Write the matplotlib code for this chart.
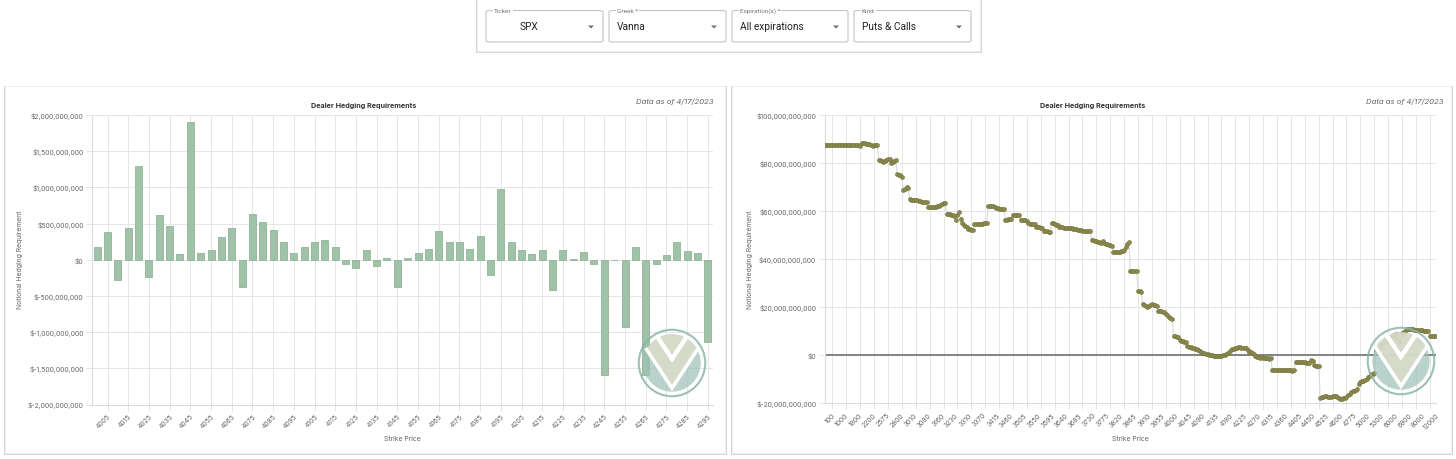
import numpy as np
import matplotlib
matplotlib.use("Agg")
import matplotlib.pyplot as plt
from matplotlib.patches import Rectangle, FancyBboxPatch, Circle, Polygon
from matplotlib.ticker import FuncFormatter, FixedLocator
from matplotlib.lines import Line2D

# ---------------- data ----------------
bar_strikes = [4000, 4005, 4010, 4015, 4020, 4025, 4030, 4035, 4040, 4045,
               4050, 4055, 4060, 4065, 4070, 4075, 4080, 4085, 4090, 4095,
               4100, 4105, 4110, 4115, 4120, 4125, 4130, 4135, 4140, 4145,
               4150, 4155, 4160, 4165, 4170, 4175, 4180, 4185, 4190, 4195,
               4200, 4205, 4210, 4215, 4220, 4225, 4230, 4235, 4240, 4245,
               4250, 4255, 4260, 4265, 4270, 4275, 4280, 4285, 4290, 4295]
# notional hedging requirement per strike, in millions of $
bar_values_m = [180, 377, -285, 432, 1297, -239, 612, 469, 74, 1909,
                87, 138, 308, 432, -377, 635, 515, 409, 248, 97,
                170, 244, 267, 170, -64, -115, 129, -83, 23, -375,
                20, 87, 152, 400, 248, 248, 152, 331, -216, 971,
                248, 133, 83, 129, -424, 129, 8, 101, -60, -1588,
                -5, -930, 179, -1590, -60, 60, 244, 120, 92, -1137]

# cumulative curve (right chart), in billions of $, one value per strike category
line_values_b = [
    87.4, 87.4, 87.4, 87.4, 87.4, 87.4, 87.4, 87.4, 87.4, 87.4,
    87.4, 87.4, 87.4, 87.4, 87.4, 87.4, 87.4, 87.4, 87.4, 87.4,
    87.4, 87.3, 87.3, 87.2, 88.3, 88.4, 88.3, 88.1, 87.9, 87.8,
    87.4, 87.1, 87.5, 87.6, 87.5, 81.4, 81.2, 80.8, 80.6, 80.8,
    81.2, 81.5, 81.6, 80.2, 80.6, 81.0, 81.2, 75.4, 75.1, 74.8,
    74.3, 68.6, 69.2, 69.8, 69.5, 64.8, 64.7, 64.7, 64.6, 64.5,
    64.4, 64.3, 64.0, 63.9, 63.7, 63.7, 63.6, 61.8, 61.8, 61.7,
    61.7, 61.7, 61.8, 61.9, 62.1, 62.4, 62.8, 63.2, 63.3, 58.7,
    58.7, 58.6, 58.5, 58.2, 58.0, 56.3, 58.3, 59.7, 56.7, 55.0,
    54.0, 53.8, 53.4, 52.6, 52.3, 52.1, 52.0, 54.6, 54.7, 54.7,
    54.6, 54.5, 54.6, 54.8, 54.9, 54.9, 61.9, 62.0, 61.9, 61.9,
    61.8, 61.3, 61.1, 61.0, 61.0, 60.9, 60.9, 56.3, 56.4, 56.5,
    56.6, 56.7, 58.3, 58.4, 58.4, 58.3, 58.2, 56.3, 56.2, 56.2,
    56.1, 56.0, 54.8, 54.6, 54.6, 54.5, 54.4, 53.4, 53.3, 53.2,
    53.0, 52.9, 51.8, 51.6, 51.5, 51.4, 51.3, 55.2, 55.0, 54.7,
    54.3, 54.0, 53.3, 53.2, 53.2, 53.1, 53.0, 53.0, 52.9, 52.8,
    52.8, 52.7, 52.6, 52.4, 52.2, 52.0, 51.9, 51.8, 51.8, 51.7,
    51.7, 51.7, 51.6, 48.0, 47.8, 47.6, 47.4, 47.2, 47.0, 46.8,
    47.6, 46.5, 46.4, 46.2, 46.0, 45.7, 45.5, 43.1, 43.0, 42.9,
    42.9, 43.0, 43.3, 43.5, 43.6, 45.2, 46.3, 47.2, 35.2, 35.1,
    35.1, 35.0, 34.9, 26.6, 26.5, 26.4, 21.3, 20.8, 20.4, 20.2,
    20.5, 21.0, 21.1, 20.9, 20.7, 20.5, 18.3, 18.3, 18.2, 18.0,
    17.8, 17.0, 16.5, 16.0, 15.4, 15.0, 8.0, 7.9, 7.7, 7.5,
    6.2, 5.9, 5.7, 5.5, 5.3, 3.6, 3.4, 3.2, 3.0, 2.8,
    2.6, 2.3, 2.0, 1.7, 1.3, 1.0, 0.8, 0.6, 0.4, 0.2,
    0.0, -0.2, -0.3, -0.4, -0.5, -0.5, -0.5, -0.4, -0.2, 0.1,
    0.5, 0.9, 1.4, 1.9, 2.3, 2.7, 3.0, 3.1, 3.2, 3.2,
    3.1, 3.1, 3.0, 3.0, 1.9, 1.4, 1.1, 0.9, 0.6, -0.6,
    -0.9, -1.0, -1.1, -1.0, -1.2, -1.4, -1.3, -1.4, -1.5, -1.4,
    -6.2, -6.4, -6.4, -6.3, -6.3, -6.4, -6.3, -6.3, -6.2, -6.3,
    -6.3, -6.3, -6.4, -6.5, -6.2, -2.9, -2.8, -2.8, -2.9, -3.0,
    -3.0, -3.1, -3.3, -3.4, -3.5, -2.0, -2.4, -4.2, -4.4, -4.5,
    -4.5, -17.8, -17.5, -17.3, -17.0, -17.1, -17.4, -17.6, -17.4, -17.2,
    -17.0, -17.2, -17.6, -17.9, -18.2, -18.4, -18.1, -17.8, -17.5, -16.8,
    -16.2, -15.6, -15.2, -14.8, -14.4, -14.0, -12.0, -11.4, -11.0, -10.8,
    -10.5, -10.2, -9.2, -8.6, -8.0, -7.8, -7.6, 2.0, 2.5, 3.0,
    3.6, 4.6, 5.0, 5.3, 5.6, 6.6, 7.0, 7.4, 7.8, 8.2,
    8.8, 7.0, 5.5, 0.3, 9.0, 9.5, 10.0, 10.8, 10.9, 10.9,
    10.8, 10.7, 10.6, 10.5, 10.5, 10.4, 10.3, 10.3, 10.2, 10.1,
    10.1, 10.0, 8.0, 7.9, 7.8, 7.8, 7.8]

line_tick_labels = ["100", "1000", "1800", "2200", "2575", "2800", "3010", "3080",
                    "3160", "3230", "3310", "3370", "3415", "3460", "3505", "3550",
                    "3595", "3640", "3685", "3730", "3775", "3820", "3865", "3910",
                    "3955", "4000", "4045", "4090", "4135", "4180", "4225", "4270",
                    "4315", "4360", "4405", "4450", "4525", "4600", "4775", "5000",
                    "5300", "6000", "6900", "8000", "12000"]

left_yticks_m = [-2000, -1500, -1000, -500, 0, 500, 1000, 1500, 2000]
right_yticks_b = [-20, 0, 20, 40, 60, 80, 100]

title = "Dealer Hedging Requirements"
asof = "Data as of 4/17/2023"
ylab = "Notional Hedging Requirement"
xlab = "Strike Price"
dropdowns = [("Ticker", "SPX"), ("Greek *", "Vanna"),
             ("Expiration(s) *", "All expirations"), ("Kind", "Puts & Calls")]

# ---------------- figure ----------------
W, H = 1456, 460
plt.rcParams['font.family'] = ['Inter', 'DejaVu Sans']
fig = plt.figure(figsize=(W / 100, H / 100), dpi=100)
fig.patch.set_facecolor('white')


def fx(x):
    return x / W


def fy(y):
    return 1 - y / H


def card(x0, y0, x1, y1):
    sh = Rectangle((fx(x0 - 1), fy(y1 + 2)), (x1 - x0 + 3) / W, (y1 - y0 + 2) / H,
                   transform=fig.transFigure, fc='#d6d6d6', ec='none', zorder=-3)
    fig.add_artist(sh)
    r = Rectangle((fx(x0), fy(y1)), (x1 - x0) / W, (y1 - y0) / H,
                  transform=fig.transFigure, fc='white', ec='#efefef', lw=0.6, zorder=-2)
    fig.add_artist(r)


card(5, 87, 725, 454)
card(732, 87, 1451, 454)
card(477, -5, 980, 52)

# dropdown boxes
boxes = [(486, 603), (609, 726), (732, 848), (854, 971)]
for (lab, val), (bx0, bx1) in zip(dropdowns, boxes):
    by0, by1 = 11.5, 43
    b = FancyBboxPatch((fx(bx0), fy(by1)), (bx1 - bx0) / W, (by1 - by0) / H,
                       boxstyle="round,pad=0,rounding_size=0.003",
                       transform=fig.transFigure, fc='white', ec='#c4c4c4', lw=0.8,
                       zorder=1)
    fig.add_artist(b)
    fig.text(fx(bx0 + 8), fy(by0), lab, fontsize=4.6, color='#757575',
             family=['Roboto', 'DejaVu Sans'], ha='left', va='center', zorder=3,
             bbox=dict(boxstyle='square,pad=0.15', fc='white', ec='none'))
    if lab == "Ticker":
        fig.text(fx(529), fy(27.5), val, fontsize=7.3, color='#222222',
                 family=['Roboto', 'DejaVu Sans'], ha='center', va='center', zorder=3)
    else:
        fig.text(fx(bx0 + 8), fy(27.5), val, fontsize=7.3, color='#222222',
                 family=['Roboto', 'DejaVu Sans'], ha='left', va='center', zorder=3)
    tx = bx1 - 12
    tri = Polygon([(fx(tx - 3), fy(26.5)), (fx(tx + 3), fy(26.5)), (fx(tx), fy(29.5))],
                  closed=True, transform=fig.transFigure, fc='#6f6f6f', ec='none', zorder=3)
    fig.add_artist(tri)

GRID = '#e6e6e6'
TXT = '#666666'


def money(v, pos=None):
    return f"${v:,.0f}"


def style_axes(ax):
    ax.set_facecolor('none')
    for s in ['top', 'right']:
        ax.spines[s].set_visible(False)
    for s in ['left', 'bottom']:
        ax.spines[s].set_color('#dcdcdc')
        ax.spines[s].set_linewidth(0.8)
    ax.set_axisbelow(True)
    ax.tick_params(axis='both', which='both', length=4, width=0.7, color=GRID,
                   labelcolor=TXT, labelsize=4.9, pad=2)


# ---------------- left chart (bars) ----------------
axL = fig.add_axes([fx(92), fy(405.5), 621 / W, 289.5 / H])
style_axes(axL)
axL.grid(True, color=GRID, lw=0.7, zorder=0)
xb = np.arange(len(bar_strikes))
axL.bar(xb, np.array(bar_values_m) * 1e6, width=0.68, color='#a0c2a8',
        edgecolor='#8fb698', linewidth=0.6, zorder=2)
axL.set_xlim(-0.5, len(bar_strikes) - 0.5)
axL.set_ylim(-2e9, 2e9)
axL.yaxis.set_major_locator(FixedLocator([v * 1e6 for v in left_yticks_m]))
axL.yaxis.set_major_formatter(FuncFormatter(money))
axL.set_xticks(xb[1::2])
axL.set_xticklabels([str(s) for s in bar_strikes[1::2]], rotation=45, ha='right',
                    rotation_mode='anchor')

# ---------------- right chart (points) ----------------
axR = fig.add_axes([fx(824.7), fy(404), 611.3 / W, 288 / H])
style_axes(axR)
xl = np.arange(len(line_values_b))
yl = np.array(line_values_b) * 1e9
axR.axhline(0, color='#7a7a7a', lw=1.3, zorder=1)
axR.plot(xl, yl, color='#dadada', lw=0.8, zorder=2)
axR.plot(xl, yl, ls='none', marker='o', ms=2.9, mfc='#8c8b4f', mec='#76753e',
         mew=0.4, zorder=3)
n = len(line_values_b)
axR.set_xlim(0, n - 1)
axR.set_ylim(-20e9, 100e9)
axR.yaxis.set_major_locator(FixedLocator([v * 1e9 for v in right_yticks_b]))
axR.yaxis.set_major_formatter(FuncFormatter(money))
axR.yaxis.grid(True, which='major', color=GRID, lw=0.7, zorder=0)
# labels evenly spread across the category axis, grid every 9 categories
label_pos = np.linspace(4.5, n - 1, len(line_tick_labels))
grid_pos = [5 + 9 * i for i in range(len(line_tick_labels) - 1)]
axR.set_xticks(label_pos)
axR.set_xticklabels(line_tick_labels, rotation=45, ha='right', rotation_mode='anchor')
axR.set_xticks(grid_pos, minor=True)
axR.tick_params(axis='x', which='major', length=0, pad=6)
axR.tick_params(axis='x', which='minor', length=4)
axR.xaxis.grid(True, which='minor', color=GRID, lw=0.7, zorder=0)

# ---------------- texts ----------------
for cx, rx, ylx, plot_cx in [(364, 714, 20, 402.5), (1093, 1443, 750, 1130)]:
    fig.text(fx(cx), fy(106), title, fontsize=5.2, fontweight='bold', color='#333333',
             ha='center', va='center')
    fig.text(fx(rx), fy(102), asof, fontsize=5.6, style='italic', color='#666666',
             ha='right', va='center')
    fig.text(fx(ylx), fy(260), ylab, fontsize=4.9, color=TXT, rotation=90,
             ha='center', va='center')
    fig.text(fx(plot_cx), fy(439), xlab, fontsize=4.9, color=TXT,
             ha='center', va='center')


# ---------------- watermark logo ----------------
def logo(cx, cy, r):
    ax = fig.add_axes([fx(cx - r), fy(cy + r), 2 * r / W, 2 * r / H])
    ax.set_xlim(-1, 1)
    ax.set_ylim(-1, 1)
    ax.axis('off')
    ax.patch.set_alpha(0)
    ax.add_patch(Circle((0, 0), 0.95, fill=False, ec='#8db6aa', lw=1.5, alpha=0.85))
    ax.add_patch(Circle((0, 0), 0.82, fc='#9ec1b7', ec='none', alpha=0.72))
    ang = np.linspace(np.radians(28), np.radians(152), 40)
    rr = 0.82
    pts = [(rr * np.cos(np.radians(152)), rr * np.sin(np.radians(152))), (0, -0.72),
           (rr * np.cos(np.radians(28)), rr * np.sin(np.radians(28)))]
    pts += [(rr * np.cos(a), rr * np.sin(a)) for a in ang]
    ax.add_patch(Polygon(pts, closed=True, fc='#dcdcc8', ec='none', alpha=0.85))
    ax.add_line(Line2D([rr * np.cos(np.radians(152)), 0, rr * np.cos(np.radians(28))],
                       [rr * np.sin(np.radians(152)), -0.72, rr * np.sin(np.radians(28))],
                       color='white', lw=2.6, solid_joinstyle='miter'))
    ax.add_line(Line2D([-0.4, 0, 0.4], [0.72, 0.12, 0.72], color='white', lw=3.2,
                       solid_joinstyle='miter'))


logo(672, 364, 35)
logo(1401, 362, 35)

fig.savefig('out.png', dpi=100, facecolor='white')
